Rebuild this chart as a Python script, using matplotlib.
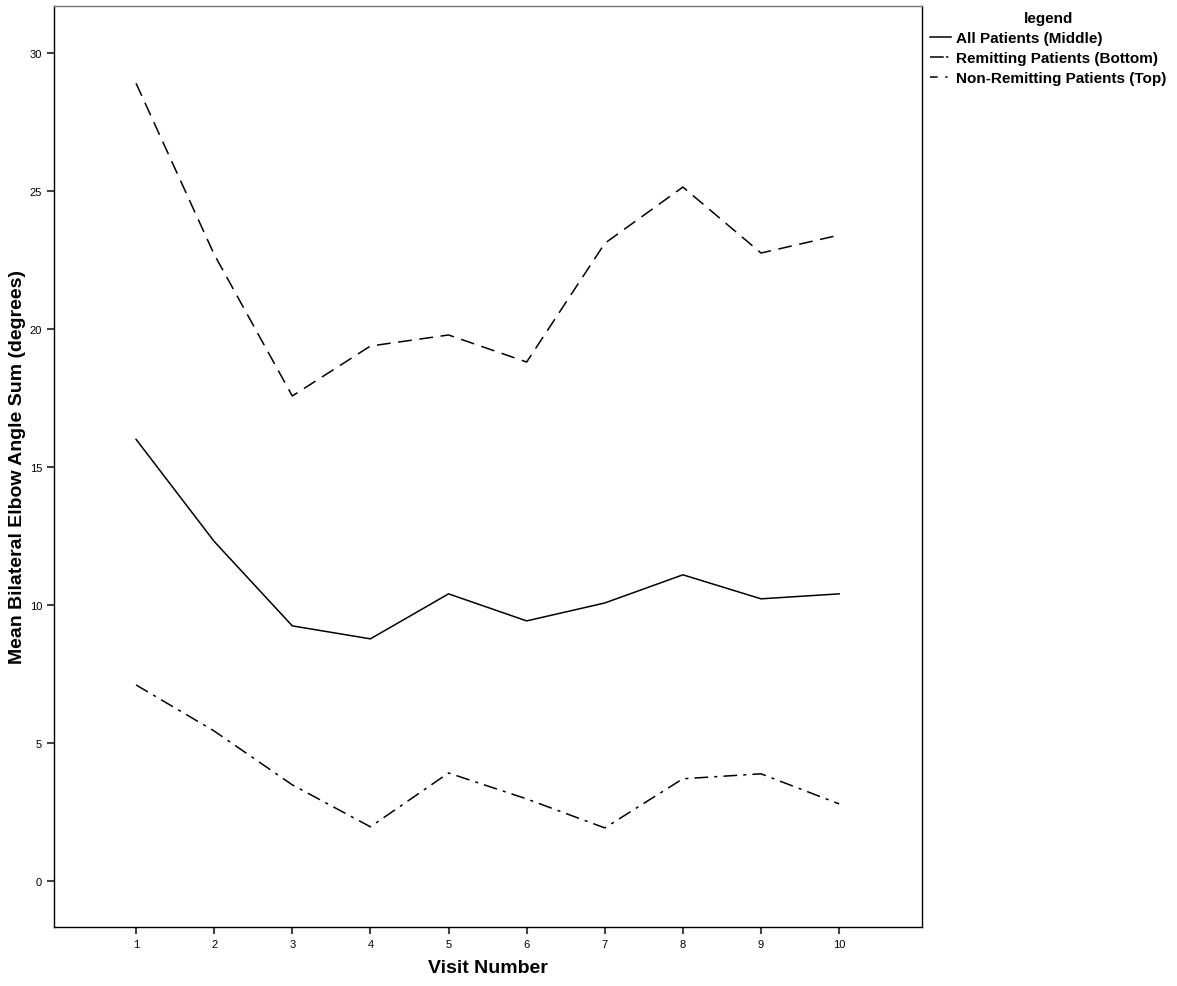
import matplotlib.pyplot as plt
from matplotlib.lines import Line2D

plt.rcParams['font.family'] = ['Liberation Sans', 'DejaVu Sans']

visits = [1, 2, 3, 4, 5, 6, 7, 8, 9, 10]
all_patients = [16.0, 12.3, 9.24, 8.77, 10.4, 9.42, 10.07, 11.09, 10.22, 10.4]
remitting = [7.1, 5.43, 3.48, 1.96, 3.91, 2.97, 1.92, 3.7, 3.88, 2.79]
non_remitting = [28.9, 22.7, 17.57, 19.38, 19.78, 18.8, 23.1, 25.14, 22.75, 23.4]
y_ticks = [0, 5, 10, 15, 20, 25, 30]
series_names = ["All Patients (Middle)", "Remitting Patients (Bottom)",
                "Non-Remitting Patients (Top)"]

fig = plt.figure(figsize=(11.77, 9.87), dpi=100)
ax = fig.add_axes([0.0459, 0.0598, 0.7374, 0.9331])

ax.plot(visits, all_patients, color="black", linewidth=1.1, linestyle="-")
ax.plot(visits, remitting, color="black", linewidth=1.1,
        linestyle=(0, (9, 4, 2, 4)))
ax.plot(visits, non_remitting, color="black", linewidth=1.1,
        linestyle=(0, (9, 5)))

ax.set_xlim(-0.05, 11.06)
ax.set_ylim(-1.67, 31.7)
ax.set_xticks(visits)
ax.set_yticks(y_ticks)
ax.tick_params(axis="both", labelsize=8, length=5, width=1.5, color="#444444")

for side in ["left", "bottom", "right"]:
    ax.spines[side].set_color("black")
    ax.spines[side].set_linewidth(1.0)
ax.spines["top"].set_color("#777777")
ax.spines["top"].set_linewidth(1.0)

ax.set_xlabel("Visit Number", fontsize=14, fontweight="bold")
ax.set_ylabel("Mean Bilateral Elbow Angle Sum (degrees)", fontsize=14,
              fontweight="bold")
ax.xaxis.set_label_coords(0.5, -0.0445)
ax.yaxis.set_label_coords(-0.0425, 0.5)
ax.xaxis.label.set_va("center")
ax.yaxis.label.set_va("center")

# poignées de légende raccourcies (motifs compressés comme dans l'original)
handles = [
    Line2D([], [], color="black", linewidth=1.1, linestyle="-"),
    Line2D([], [], color="black", linewidth=1.1, linestyle=(0, (9, 1.5, 1.5, 10))),
    Line2D([], [], color="black", linewidth=1.1, linestyle=(0, (5, 5, 1.5, 10))),
]
leg = fig.legend(handles, series_names, loc="upper left",
                 bbox_to_anchor=(0.785, 0.994),
                 frameon=False, title="legend", handlelength=1.4,
                 handletextpad=0.3, labelspacing=0.4, borderaxespad=0,
                 prop={"size": 11, "weight": "bold"},
                 title_fontproperties={"size": 11, "weight": "bold"})

fig.savefig("out.png", dpi=100)
